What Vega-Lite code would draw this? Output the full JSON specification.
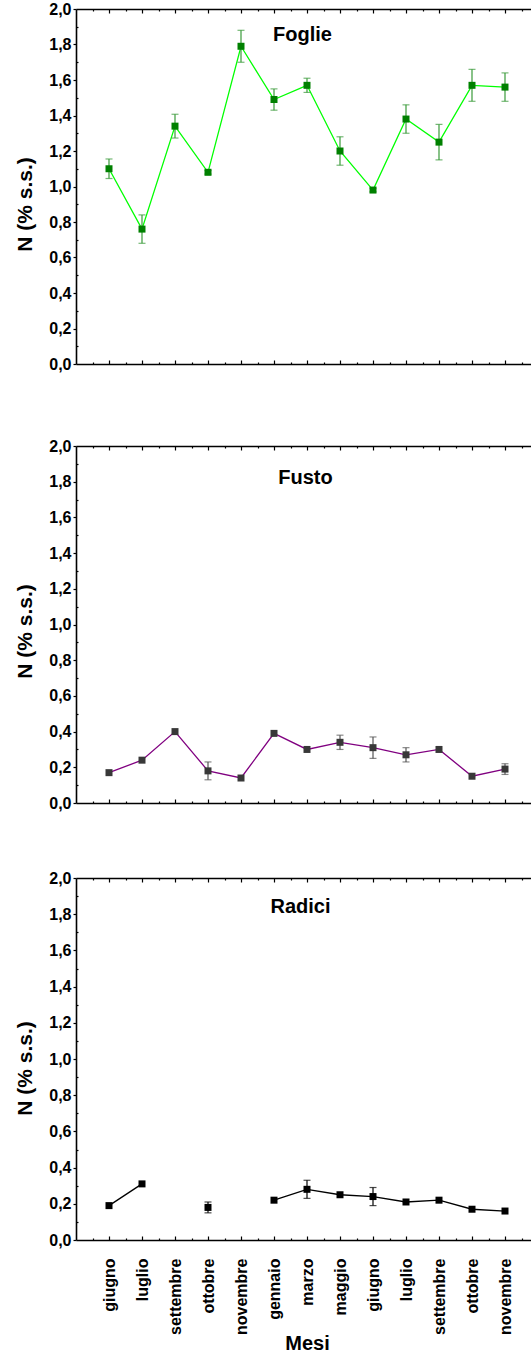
{
  "$schema": "https://vega.github.io/schema/vega-lite/v6.json",
  "padding": {"left": 14, "top": 1, "right": 0, "bottom": 0},
  "background": "white",
  "config": {
    "font": "Liberation Sans",
    "view": {"stroke": null},
    "axis": {
      "labelFont": "Liberation Sans", "labelFontWeight": "bold", "labelFontSize": 16, "labelColor": "black",
      "titleFont": "Liberation Sans", "titleFontWeight": "bold", "titleFontSize": 21, "titleColor": "black",
      "domainColor": "black", "domainWidth": 1.6, "tickColor": "black", "tickWidth": 1.2, "grid": false,
      "labelOverlap": false, "labelFlush": false
    }
  },
  "datasets": {
    "azoto": [
      {"organo": "Foglie", "idx": 1, "mese": "giugno", "N": 1.10, "err": 0.055},
      {"organo": "Foglie", "idx": 2, "mese": "luglio", "N": 0.76, "err": 0.08},
      {"organo": "Foglie", "idx": 3, "mese": "settembre", "N": 1.34, "err": 0.067},
      {"organo": "Foglie", "idx": 4, "mese": "ottobre", "N": 1.08, "err": 0.01},
      {"organo": "Foglie", "idx": 5, "mese": "novembre", "N": 1.79, "err": 0.09},
      {"organo": "Foglie", "idx": 6, "mese": "gennaio", "N": 1.49, "err": 0.06},
      {"organo": "Foglie", "idx": 7, "mese": "marzo", "N": 1.57, "err": 0.04},
      {"organo": "Foglie", "idx": 8, "mese": "maggio", "N": 1.20, "err": 0.08},
      {"organo": "Foglie", "idx": 9, "mese": "giugno", "N": 0.98, "err": 0.01},
      {"organo": "Foglie", "idx": 10, "mese": "luglio", "N": 1.38, "err": 0.08},
      {"organo": "Foglie", "idx": 11, "mese": "settembre", "N": 1.25, "err": 0.10},
      {"organo": "Foglie", "idx": 12, "mese": "ottobre", "N": 1.57, "err": 0.09},
      {"organo": "Foglie", "idx": 13, "mese": "novembre", "N": 1.56, "err": 0.08},
      {"organo": "Fusto", "idx": 1, "mese": "giugno", "N": 0.17, "err": null},
      {"organo": "Fusto", "idx": 2, "mese": "luglio", "N": 0.24, "err": null},
      {"organo": "Fusto", "idx": 3, "mese": "settembre", "N": 0.40, "err": null},
      {"organo": "Fusto", "idx": 4, "mese": "ottobre", "N": 0.18, "err": 0.05},
      {"organo": "Fusto", "idx": 5, "mese": "novembre", "N": 0.14, "err": null},
      {"organo": "Fusto", "idx": 6, "mese": "gennaio", "N": 0.39, "err": null},
      {"organo": "Fusto", "idx": 7, "mese": "marzo", "N": 0.30, "err": null},
      {"organo": "Fusto", "idx": 8, "mese": "maggio", "N": 0.34, "err": 0.04},
      {"organo": "Fusto", "idx": 9, "mese": "giugno", "N": 0.31, "err": 0.06},
      {"organo": "Fusto", "idx": 10, "mese": "luglio", "N": 0.27, "err": 0.04},
      {"organo": "Fusto", "idx": 11, "mese": "settembre", "N": 0.30, "err": null},
      {"organo": "Fusto", "idx": 12, "mese": "ottobre", "N": 0.15, "err": null},
      {"organo": "Fusto", "idx": 13, "mese": "novembre", "N": 0.19, "err": 0.03},
      {"organo": "Radici", "idx": 1, "mese": "giugno", "N": 0.19, "err": null},
      {"organo": "Radici", "idx": 2, "mese": "luglio", "N": 0.31, "err": null},
      {"organo": "Radici", "idx": 3, "mese": "settembre", "N": null, "err": null},
      {"organo": "Radici", "idx": 4, "mese": "ottobre", "N": 0.18, "err": 0.03},
      {"organo": "Radici", "idx": 5, "mese": "novembre", "N": null, "err": null},
      {"organo": "Radici", "idx": 6, "mese": "gennaio", "N": 0.22, "err": null},
      {"organo": "Radici", "idx": 7, "mese": "marzo", "N": 0.28, "err": 0.05},
      {"organo": "Radici", "idx": 8, "mese": "maggio", "N": 0.25, "err": null},
      {"organo": "Radici", "idx": 9, "mese": "giugno", "N": 0.24, "err": 0.05},
      {"organo": "Radici", "idx": 10, "mese": "luglio", "N": 0.21, "err": null},
      {"organo": "Radici", "idx": 11, "mese": "settembre", "N": 0.22, "err": null},
      {"organo": "Radici", "idx": 12, "mese": "ottobre", "N": 0.17, "err": null},
      {"organo": "Radici", "idx": 13, "mese": "novembre", "N": 0.16, "err": null}
    ]
  },
  "spacing": 59,
  "vconcat": [
    {
      "spacing": 66,
      "vconcat": [
        {
          "width": 462, "height": 355,
          "data": {"name": "azoto"},
          "transform": [{"filter": "datum.organo === 'Foglie'"}],
          "encoding": {
            "y": {"field": "N", "type": "quantitative", "scale": {"domain": [0, 2], "nice": false},
              "axis": {"title": "N (% s.s.)", "values": [0,0.1,0.2,0.3,0.4,0.5,0.6,0.7,0.8,0.9,1.0,1.1,1.2,1.3,1.4,1.5,1.6,1.7,1.8,1.9,2.0],
                "labelExpr": "round(datum.value*10) % 2 === 0 ? replace(format(datum.value, '.1f'), '.', ',') : ''",
                "tickSize": {"condition": {"test": "round(datum.value*10) % 2 === 0", "value": 3}, "value": -2},
                "labelPadding": 2, "titleX": -45, "titleY": 195, "titleBaseline": "alphabetic"}}
          },
          "resolve": {"axis": {"x": "independent"}},
          "layer": [
            {"mark": {"type": "line", "color": "#00ff00", "strokeWidth": 1.3, "invalid": "break-paths-filter-domains"},
             "encoding": {"x": {"field": "idx", "type": "quantitative", "scale": {"domain": [0, 14], "nice": false},
               "axis": {"orient": "bottom", "title": null, "labels": false, "values": [0.5,1,1.5,2,2.5,3,3.5,4,4.5,5,5.5,6,6.5,7,7.5,8,8.5,9,9.5,10,10.5,11,11.5,12,12.5,13,13.5],
                 "tickSize": {"condition": {"test": "datum.value % 1 === 0", "value": -4}, "value": -2}}}}},
            {"transform": [{"filter": "isValid(datum.err)"}],
             "mark": {"type": "errorbar", "color": "#3a9a3a", "thickness": 1.2, "ticks": {"size": 7, "thickness": 1.2}},
             "encoding": {"x": {"field": "idx", "type": "quantitative", "axis": null}, "yError": {"field": "err"}}},
            {"mark": {"type": "square", "size": 49, "filled": true, "opacity": 1, "color": "#008000"},
             "encoding": {"x": {"field": "idx", "type": "quantitative",
               "axis": {"orient": "top", "title": "Foglie", "titleFontSize": 20, "titleX": 226, "titleY": 31, "titleBaseline": "alphabetic", "titleAngle": 0,
                 "labels": false, "values": [0.5,1,1.5,2,2.5,3,3.5,4,4.5,5,5.5,6,6.5,7,7.5,8,8.5,9,9.5,10,10.5,11,11.5,12,12.5,13,13.5],
                 "tickSize": {"condition": {"test": "datum.value % 1 === 0", "value": -4}, "value": -2}}}}}
          ]
        },
        {
          "width": 462, "height": 357,
          "data": {"name": "azoto"},
          "transform": [{"filter": "datum.organo === 'Fusto'"}],
          "encoding": {
            "y": {"field": "N", "type": "quantitative", "scale": {"domain": [0, 2], "nice": false},
              "axis": {"title": "N (% s.s.)", "values": [0,0.1,0.2,0.3,0.4,0.5,0.6,0.7,0.8,0.9,1.0,1.1,1.2,1.3,1.4,1.5,1.6,1.7,1.8,1.9,2.0],
                "labelExpr": "round(datum.value*10) % 2 === 0 ? replace(format(datum.value, '.1f'), '.', ',') : ''",
                "tickSize": {"condition": {"test": "round(datum.value*10) % 2 === 0", "value": 3}, "value": -2},
                "labelPadding": 2, "titleX": -45, "titleY": 185, "titleBaseline": "alphabetic"}}
          },
          "resolve": {"axis": {"x": "independent"}},
          "layer": [
            {"mark": {"type": "line", "color": "#800080", "strokeWidth": 1.3, "invalid": "break-paths-filter-domains"},
             "encoding": {"x": {"field": "idx", "type": "quantitative", "scale": {"domain": [0, 14], "nice": false},
               "axis": {"orient": "bottom", "title": null, "labels": false, "values": [0.5,1,1.5,2,2.5,3,3.5,4,4.5,5,5.5,6,6.5,7,7.5,8,8.5,9,9.5,10,10.5,11,11.5,12,12.5,13,13.5],
                 "tickSize": {"condition": {"test": "datum.value % 1 === 0", "value": -4}, "value": -2}}}}},
            {"transform": [{"filter": "isValid(datum.err)"}],
             "mark": {"type": "errorbar", "color": "#555555", "thickness": 1.2, "ticks": {"size": 7, "thickness": 1.2}},
             "encoding": {"x": {"field": "idx", "type": "quantitative", "axis": null}, "yError": {"field": "err"}}},
            {"mark": {"type": "square", "size": 49, "filled": true, "opacity": 1, "color": "#383838"},
             "encoding": {"x": {"field": "idx", "type": "quantitative",
               "axis": {"orient": "top", "title": "Fusto", "titleFontSize": 20, "titleX": 229, "titleY": 37, "titleBaseline": "alphabetic", "titleAngle": 0,
                 "labels": false, "values": [0.5,1,1.5,2,2.5,3,3.5,4,4.5,5,5.5,6,6.5,7,7.5,8,8.5,9,9.5,10,10.5,11,11.5,12,12.5,13,13.5],
                 "tickSize": {"condition": {"test": "datum.value % 1 === 0", "value": -4}, "value": -2}}}}}
          ]
        }
      ]
    },
    {
      "width": 462, "height": 362,
      "data": {"name": "azoto"},
      "transform": [{"filter": "datum.organo === 'Radici'"}],
      "encoding": {
        "y": {"field": "N", "type": "quantitative", "scale": {"domain": [0, 2], "nice": false},
          "axis": {"title": "N (% s.s.)", "values": [0,0.1,0.2,0.3,0.4,0.5,0.6,0.7,0.8,0.9,1.0,1.1,1.2,1.3,1.4,1.5,1.6,1.7,1.8,1.9,2.0],
            "labelExpr": "round(datum.value*10) % 2 === 0 ? replace(format(datum.value, '.1f'), '.', ',') : ''",
            "tickSize": {"condition": {"test": "round(datum.value*10) % 2 === 0", "value": 3}, "value": -2},
            "labelPadding": 2, "titleX": -45, "titleY": 190, "titleBaseline": "alphabetic"}}
      },
      "resolve": {"axis": {"x": "independent"}},
      "layer": [
        {"mark": {"type": "line", "color": "#000000", "strokeWidth": 1.3, "invalid": "break-paths-filter-domains"},
         "encoding": {"x": {"field": "idx", "type": "quantitative", "scale": {"domain": [0, 14], "nice": false},
           "axis": {"orient": "bottom", "title": "Mesi", "titleFontSize": 20, "titleY": 109, "titleBaseline": "alphabetic",
             "values": [0.5,1,1.5,2,2.5,3,3.5,4,4.5,5,5.5,6,6.5,7,7.5,8,8.5,9,9.5,10,10.5,11,11.5,12,12.5,13,13.5],
             "labelExpr": "datum.value % 1 === 0 ? ['','giugno','luglio','settembre','ottobre','novembre','gennaio','marzo','maggio','giugno','luglio','settembre','ottobre','novembre'][datum.value] : ''",
             "labelAngle": 270, "labelAlign": "right", "labelBaseline": "middle", "labelPadding": 22,
             "tickSize": {"condition": {"test": "datum.value % 1 === 0", "value": -4}, "value": -2}}}}},
        {"transform": [{"filter": "isValid(datum.err)"}],
         "mark": {"type": "errorbar", "color": "#000000", "thickness": 1.2, "ticks": {"size": 7, "thickness": 1.2}},
         "encoding": {"x": {"field": "idx", "type": "quantitative", "axis": null}, "yError": {"field": "err"}}},
        {"mark": {"type": "square", "size": 49, "filled": true, "opacity": 1, "color": "#000000"},
         "encoding": {"x": {"field": "idx", "type": "quantitative",
           "axis": {"orient": "top", "title": "Radici", "titleFontSize": 20, "titleX": 224, "titleY": 34, "titleBaseline": "alphabetic", "titleAngle": 0,
             "labels": false, "values": [0.5,1,1.5,2,2.5,3,3.5,4,4.5,5,5.5,6,6.5,7,7.5,8,8.5,9,9.5,10,10.5,11,11.5,12,12.5,13,13.5],
             "tickSize": {"condition": {"test": "datum.value % 1 === 0", "value": -4}, "value": -2}}}}}
      ]
    }
  ]
}
